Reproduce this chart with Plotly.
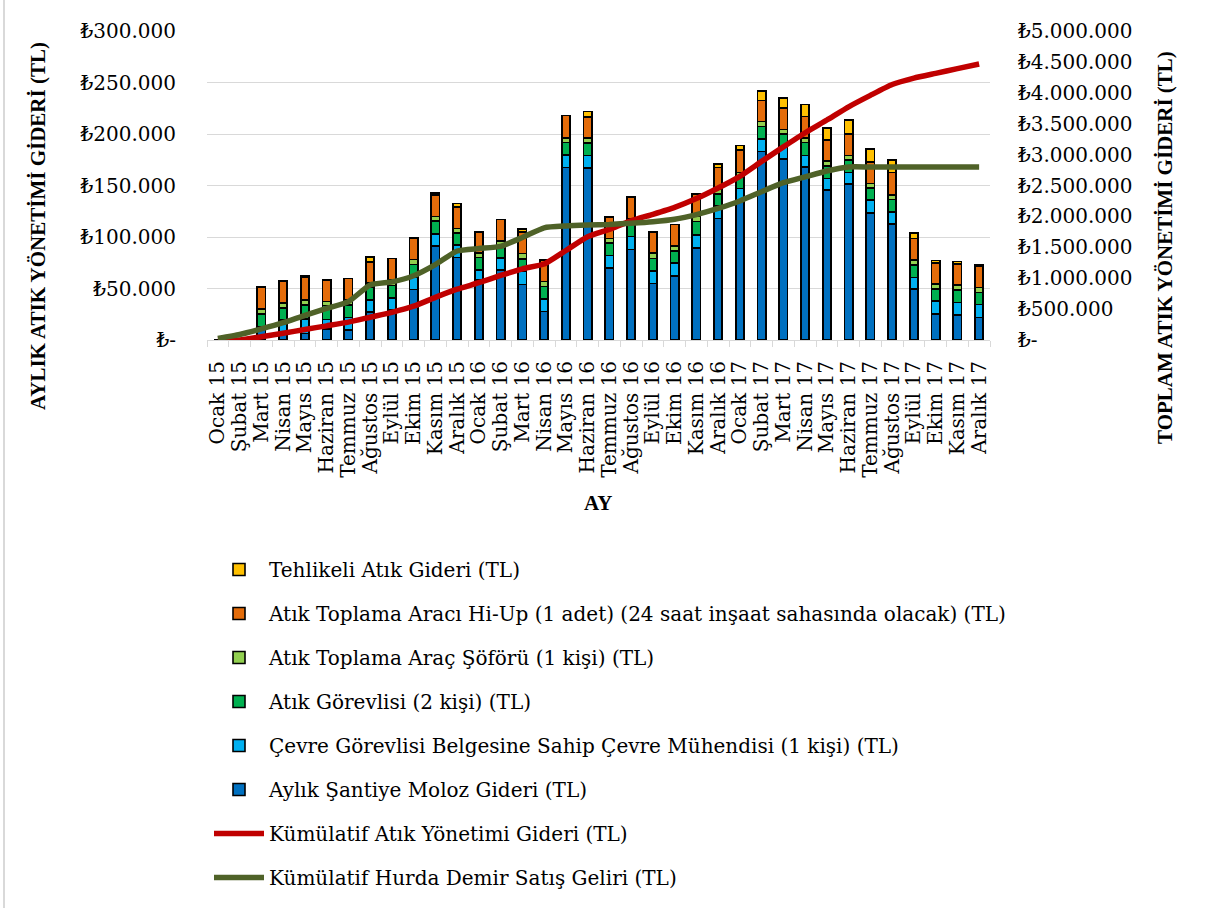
import plotly.graph_objects as go

# Months (x categories)
aylar = [
    "Ocak 15", "Şubat 15", "Mart 15", "Nisan 15", "Mayıs 15", "Haziran 15",
    "Temmuz 15", "Ağustos 15", "Eylül 15", "Ekim 15", "Kasım 15", "Aralık 15",
    "Ocak 16", "Şubat 16", "Mart 16", "Nisan 16", "Mayıs 16", "Haziran 16",
    "Temmuz 16", "Ağustos 16", "Eylül 16", "Ekim 16", "Kasım 16", "Aralık 16",
    "Ocak 17", "Şubat 17", "Mart 17", "Nisan 17", "Mayıs 17", "Haziran 17",
    "Temmuz 17", "Ağustos 17", "Eylül 17", "Ekim 17", "Kasım 17", "Aralık 17",
]

# Monthly cost components (TL), stacked from bottom to top
moloz = [0, 0, 11300, 7500, 6500, 10400, 9700, 27000, 29000, 49000, 91500, 80000,
         58000, 68000, 54000, 27500, 167300, 167000, 70000, 88000, 55000, 62000, 89500, 118000,
         135000, 183000, 176000, 168000, 145500, 151500, 123500, 112500, 49500, 25500, 24500, 22000]
cevre = [0, 0, 2000, 12000, 14000, 9700, 12300, 12000, 12000, 12000, 11500, 12300,
         10000, 11500, 12600, 12300, 12300, 12000, 12000, 12500, 12000, 12900, 12500, 12300,
         12000, 12300, 11500, 11300, 11300, 11300, 12300, 12000, 11300, 12300, 12000, 12300]
gorevli = [0, 0, 12000, 11300, 13500, 13300, 12000, 12000, 12000, 12500, 12500, 11300,
           12000, 12000, 12300, 12000, 12300, 12500, 12000, 12500, 12300, 11300, 13000, 11300,
           11000, 12000, 12500, 12300, 12300, 12000, 11500, 12000, 12300, 12000, 12300, 12000]
sofor = [0, 0, 4900, 4900, 4900, 3900, 4900, 4500, 5000, 4500, 4500, 4500,
         4500, 4500, 4900, 4900, 4500, 4500, 4500, 4500, 4900, 4900, 5000, 4900,
         4500, 4900, 4500, 4500, 4500, 4500, 4500, 4500, 4500, 4500, 4500, 4500]
arac = [0, 0, 21000, 21400, 22000, 20700, 21000, 20500, 21000, 21000, 21000, 21000,
        20500, 21000, 21000, 21000, 21400, 20500, 21000, 21500, 20700, 21000, 22000, 21000,
        22000, 20400, 21000, 21000, 20500, 20500, 21000, 21500, 21000, 20500, 20500, 21000]
tehlike = [0, 0, 500, 0, 1000, 0, 0, 4500, 0, 0, 2000, 3500,
           0, 0, 3000, 0, 0, 5500, 0, 0, 0, 0, 0, 3500,
           4500, 9000, 9500, 11500, 11500, 14000, 12500, 12000, 5500, 2500, 2500, 1500]

# Cumulative series (TL), right axis
kum_gider = [0, 0, 52000, 109000, 171000, 229000, 289000, 369000, 448000, 547000, 690000, 822000,
             927000, 1044000, 1152000, 1230000, 1448000, 1670000, 1790000, 1929000, 2034000, 2146000,
             2288000, 2459000, 2648000, 2890000, 3125000, 3354000, 3560000, 3774000, 3959000, 4134000,
             4238000, 4315000, 4391000, 4465000]
kum_hurda = [25000, 90000, 180000, 280000, 400000, 510000, 620000, 890000, 940000, 1040000, 1220000,
             1440000, 1480000, 1515000, 1660000, 1815000, 1845000, 1860000, 1870000, 1890000, 1915000,
             1955000, 2030000, 2130000, 2250000, 2400000, 2545000, 2640000, 2735000, 2800000, 2800000,
             2800000, 2800000, 2800000, 2800000, 2800000]

# Axis tick labels
sol_tick_deger = [0, 50000, 100000, 150000, 200000, 250000, 300000]
sol_tick_metin = ["₺-", "₺50.000", "₺100.000", "₺150.000", "₺200.000", "₺250.000", "₺300.000"]
sag_tick_deger = [0, 500000, 1000000, 1500000, 2000000, 2500000, 3000000, 3500000, 4000000,
                  4500000, 5000000]
sag_tick_metin = ["₺-", "₺500.000", "₺1.000.000", "₺1.500.000", "₺2.000.000", "₺2.500.000",
                  "₺3.000.000", "₺3.500.000", "₺4.000.000", "₺4.500.000", "₺5.000.000"]

FONT = "DejaVu Serif"
TITLE_FONT = "Liberation Serif"

bar_series = [
    ("Aylık Şantiye Moloz Gideri (TL)", moloz, "#0070C0", 6),
    ("Çevre Görevlisi Belgesine Sahip Çevre Mühendisi (1 kişi) (TL)", cevre, "#00B0F0", 5),
    ("Atık Görevlisi (2 kişi) (TL)", gorevli, "#00B050", 4),
    ("Atık Toplama Araç Şöförü (1 kişi) (TL)", sofor, "#92D050", 3),
    ("Atık Toplama Aracı Hi-Up (1 adet) (24 saat inşaat sahasında olacak) (TL)", arac, "#E46C0A", 2),
    ("Tehlikeli Atık Gideri (TL)", tehlike, "#FFC000", 1),
]

fig = go.Figure()
for name, vals, color, rank in bar_series:
    fig.add_trace(go.Bar(
        x=aylar, y=vals, name=name, width=0.38,
        marker=dict(color=color, line=dict(color="#000000", width=1.6)),
        legendrank=rank, legendgroup=name, yaxis="y",
    ))

fig.add_trace(go.Scatter(
    x=aylar, y=kum_gider, name="Kümülatif Atık Yönetimi Gideri (TL)", mode="lines",
    line=dict(color="#C00000", width=5.5, shape="spline", smoothing=0.5),
    legendrank=7, legendgroup="kg", yaxis="y2",
))
fig.add_trace(go.Scatter(
    x=aylar, y=kum_hurda, name="Kümülatif Hurda Demir Satış Geliri (TL)", mode="lines",
    line=dict(color="#4F6228", width=5.5, shape="spline", smoothing=0.5),
    legendrank=8, legendgroup="kh", yaxis="y2",
))

L, R, T, B = 207, 215, 31, 568
W, H = 1205, 908
pw, ph = W - L - R, H - T - B


def px_x(x):
    return (x - L) / pw


def px_y(y):
    return (H - B - y) / ph


fig.update_layout(
    width=W, height=H,
    margin=dict(l=L, r=R, t=T, b=B, autoexpand=False),
    paper_bgcolor="white", plot_bgcolor="white",
    barmode="stack",
    font=dict(family=FONT, size=20, color="#000000"),
    showlegend=True,
    legend=dict(
        x=px_x(209), y=px_y(550), xanchor="left", yanchor="top",
        traceorder="grouped", tracegroupgap=15, itemwidth=50,
        font=dict(family=FONT, size=20, color="#000000"),
        bgcolor="rgba(0,0,0,0)",
    ),
    xaxis=dict(
        type="category", tickangle=-90, tickfont=dict(family=FONT, size=20),
        tickmode="array", tickvals=aylar, ticktext=aylar,
        showline=True, linecolor="#D9D9D9", linewidth=1,
        ticks="outside", tickson="boundaries", ticklen=6, tickcolor="#D9D9D9",
        showgrid=False, ticklabelstandoff=12,
    ),
    yaxis=dict(
        range=[0, 300000], tickvals=sol_tick_deger, ticktext=sol_tick_metin,
        showgrid=True, gridcolor="#D9D9D9", gridwidth=1, zeroline=False,
        showline=False, ticks="", ticklabelstandoff=30,
        tickfont=dict(family=FONT, size=20),
    ),
    yaxis2=dict(
        range=[0, 5000000], tickvals=sag_tick_deger, ticktext=sag_tick_metin,
        overlaying="y", side="right", showgrid=False, zeroline=False,
        showline=False, ticks="", ticklabelstandoff=27,
        tickfont=dict(family=FONT, size=20),
    ),
    annotations=[
        dict(text="<b>AYLIK ATIK YÖNETİMİ GİDERİ (TL)</b>", xref="paper", yref="paper",
             x=px_x(38), y=px_y(226), textangle=-90, showarrow=False,
             font=dict(family=TITLE_FONT, size=21), xanchor="center", yanchor="middle"),
        dict(text="<b>TOPLAM ATIK YÖNETİMİ GİDERİ (TL)</b>", xref="paper", yref="paper",
             x=px_x(1165), y=px_y(248), textangle=-90, showarrow=False,
             font=dict(family=TITLE_FONT, size=21), xanchor="center", yanchor="middle"),
        dict(text="<b>AY</b>", xref="paper", yref="paper",
             x=px_x(598), y=px_y(503), showarrow=False,
             font=dict(family=TITLE_FONT, size=21), xanchor="center", yanchor="middle"),
    ],
    shapes=[
        dict(type="line", xref="paper", yref="paper",
             x0=px_x(4), x1=px_x(4), y0=px_y(908), y1=px_y(0),
             line=dict(color="#D9D9D9", width=2)),
    ],
)

fig.write_html("out.html")
